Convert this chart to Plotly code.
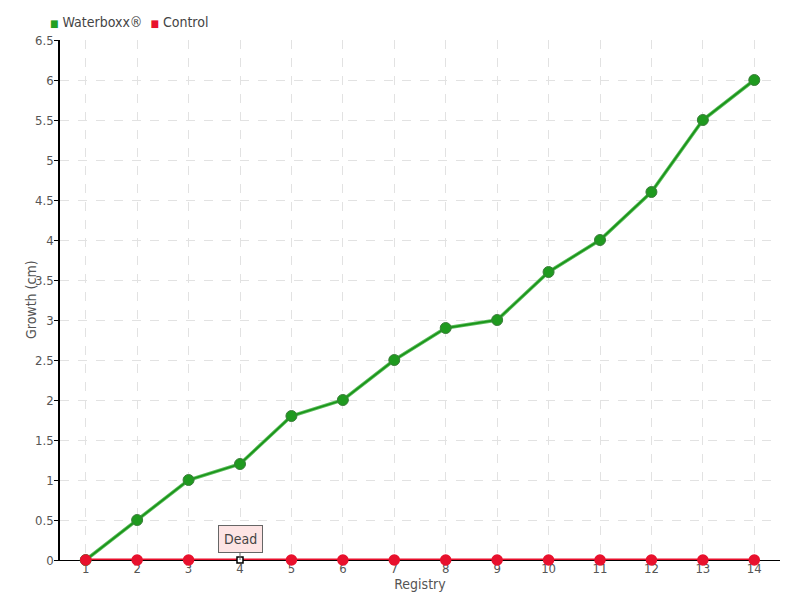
import plotly.graph_objects as go

registry = list(range(1, 15))
registry_labels = [str(r) for r in registry]
waterboxx = [0, 0.5, 1, 1.2, 1.8, 2, 2.5, 2.9, 3, 3.6, 4, 4.6, 5.5, 6]
control = [0] * 14
y_ticks = [0, 0.5, 1, 1.5, 2, 2.5, 3, 3.5, 4, 4.5, 5, 5.5, 6, 6.5]
y_tick_labels = ["0", "0.5", "1", "1.5", "2", "2.5", "3", "3.5", "4", "4.5", "5", "5.5", "6", "6.5"]
series_names = ["Waterboxx®", "Control"]
dead_index = 4

FONT = "DejaVu Sans Condensed, Liberation Sans Narrow, sans-serif"
RED = "#e8112d"

fig = go.Figure()

fig.add_trace(go.Scatter(x=registry, y=waterboxx, mode="lines",
                         line=dict(color="#5cbc5c", width=3.5), showlegend=False,
                         hoverinfo="skip", cliponaxis=False))
fig.add_trace(go.Scatter(x=registry, y=waterboxx, mode="lines+markers",
                         line=dict(color="#1a951a", width=1.8),
                         marker=dict(size=11, color="#1f9a1f", line=dict(color="#3b7d3b", width=1)),
                         showlegend=False, name=series_names[0], cliponaxis=False))

ctrl_symbols = ["circle"] * 14
ctrl_colors = [RED] * 14
ctrl_sizes = [10] * 14
ctrl_line_colors = [RED] * 14
i = registry.index(dead_index)
ctrl_symbols[i] = "square"
ctrl_colors[i] = "white"
ctrl_sizes[i] = 6
ctrl_line_colors[i] = "black"

fig.add_trace(go.Scatter(x=registry, y=control, mode="lines+markers",
                         line=dict(color=RED, width=3),
                         marker=dict(size=ctrl_sizes, color=ctrl_colors, symbol=ctrl_symbols,
                                     line=dict(color=ctrl_line_colors, width=1.5), opacity=1),
                         showlegend=False, name=series_names[1], cliponaxis=False))

# legend drawn as text items (compact square icons like the reference)
fig.add_annotation(xref="paper", yref="paper", x=-0.016, y=1.0, yshift=18,
                   xanchor="left", yanchor="middle", showarrow=False,
                   text=f"<span style='color:#22a022;font-size:10px'>■</span> {series_names[0]}&nbsp;&nbsp;"
                        f"<span style='color:{RED};font-size:10px'>■</span> {series_names[1]}",
                   font=dict(family=FONT, size=14, color="#444"))

# y-axis title placed like the reference
fig.add_annotation(xref="paper", yref="paper", x=0, xshift=-29, y=0.5,
                   xanchor="center", yanchor="middle", showarrow=False, textangle=-90,
                   text="Growth (cm)", font=dict(family=FONT, size=14, color="#555"))

fig.add_annotation(x=dead_index, y=0, text="Dead", showarrow=True, arrowhead=0,
                   arrowcolor="#666", ax=0, ay=-21, bgcolor="#fde4e4", bordercolor="#666",
                   borderwidth=1, borderpad=5, font=dict(family=FONT, size=14, color="#444"))

# The page has an 8px body margin, so margins are shifted to put the plot area
# at x 60..780, y 40..560 in the screenshot.
fig.update_layout(
    width=800, height=600,
    margin=dict(l=52, r=28, t=32, b=48, autoexpand=False),
    plot_bgcolor="white", paper_bgcolor="white",
    font=dict(family=FONT, size=13, color="#555"),
    showlegend=False,
)
fig.update_xaxes(range=[0.5, 14.5], tickvals=registry, ticktext=registry_labels,
                 showgrid=True, gridcolor="#e2e2e2", griddash="dash", gridwidth=1,
                 showline=True, linecolor="black", linewidth=1, zeroline=False,
                 ticks="", ticklen=0, automargin=False, layer="below traces",
                 ticklabelstandoff=-4,
                 title=dict(text="Registry", standoff=0, font=dict(family=FONT, size=14, color="#555")))
fig.update_yaxes(range=[0, 6.5], tickvals=y_ticks, ticktext=y_tick_labels,
                 showgrid=True, gridcolor="#e2e2e2", griddash="dash", gridwidth=1,
                 showline=True, linecolor="black", linewidth=1.5, zeroline=False,
                 ticks="outside", ticklen=4, tickcolor="black", automargin=False,
                 ticklabelstandoff=-2)

fig.write_html("out.html")
